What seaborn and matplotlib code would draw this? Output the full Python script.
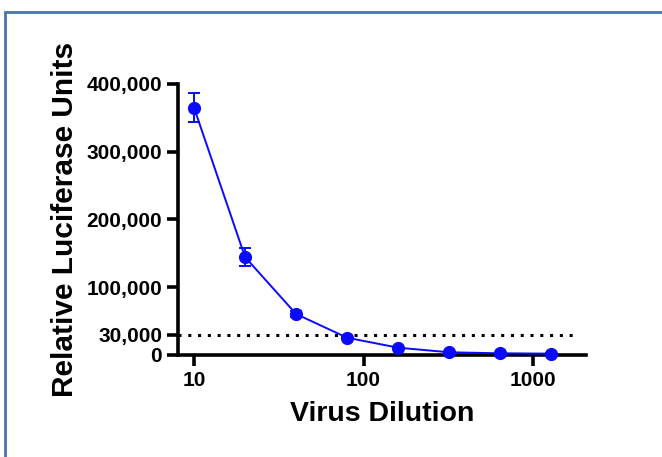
import numpy as np
import pandas as pd
import matplotlib
matplotlib.use("Agg")
import matplotlib.pyplot as plt
from matplotlib.patches import Rectangle
import seaborn as sns

# data
dilution = [10, 20, 40, 80, 160, 320, 640, 1280]
rlu_mean = [365000, 144500, 60500, 25500, 10800, 4000, 2500, 2000]
rlu_sd = [21000, 13000, 5000, 1500, 1000, 600, 400, 300]
cutoff = 30000
y_ticks = [0, 30000, 100000, 200000, 300000, 400000]
x_ticks = [10, 100, 1000]

df = pd.DataFrame({"Virus Dilution": dilution, "RLU": rlu_mean, "SD": rlu_sd})

sns.set_style("ticks", {"axes.edgecolor": "black", "text.color": "black",
                        "axes.labelcolor": "black", "xtick.color": "black",
                        "ytick.color": "black"})
plt.rcParams["font.family"] = ["Liberation Sans", "DejaVu Sans"]
plt.rcParams["font.weight"] = "bold"

fig = plt.figure(figsize=(6.62, 4.57), dpi=100)
ax = fig.add_axes([0.269, 0.2232, 0.616, 0.593])

blue = "#0a0aff"
sns.lineplot(data=df, x="Virus Dilution", y="RLU", ax=ax, color=blue,
             marker="o", markersize=9.5, markeredgewidth=0, linewidth=1.4,
             clip_on=False, zorder=3)
ax.errorbar(df["Virus Dilution"], df["RLU"], yerr=df["SD"], fmt="none",
            ecolor=blue, elinewidth=1.4, capsize=4, capthick=1.4, clip_on=False, zorder=3)
ax.axhline(cutoff, color="black", linestyle=(0, (1, 2.2)), linewidth=2.2, zorder=2,
           xmin=0.0, xmax=0.97)

ax.set_xscale("log")
ax.set_xlim(8.05, 2050)
ax.set_ylim(0, 400000)
ax.set_xticks(x_ticks)
ax.set_xticklabels([str(t) for t in x_ticks])
ax.xaxis.set_minor_locator(matplotlib.ticker.NullLocator())
ax.set_yticks(y_ticks)
ax.set_yticklabels([f"{t:,}" for t in y_ticks])

for s in ["top", "right"]:
    ax.spines[s].set_visible(False)
for s in ["left", "bottom"]:
    ax.spines[s].set_linewidth(2.6)
    ax.spines[s].set_color("black")
ax.tick_params(axis="both", width=2.6, length=8, labelsize=15, colors="black")
for lab in ax.get_xticklabels() + ax.get_yticklabels():
    lab.set_fontweight("bold")

ax.set_xlabel("Virus Dilution", fontsize=20.5, fontweight="bold", labelpad=8, color="black")
ax.set_ylabel("Relative Luciferase Units", fontsize=21.5, fontweight="bold", labelpad=5,
              color="black")

# outer frame of the exported panel
fig.patches.append(Rectangle((5 / 662, -0.1), 1.2, (457 - 12) / 457 + 0.1,
                             transform=fig.transFigure, fill=False,
                             edgecolor="#4a76a8", linewidth=2))

fig.savefig("out.png", dpi=100)
